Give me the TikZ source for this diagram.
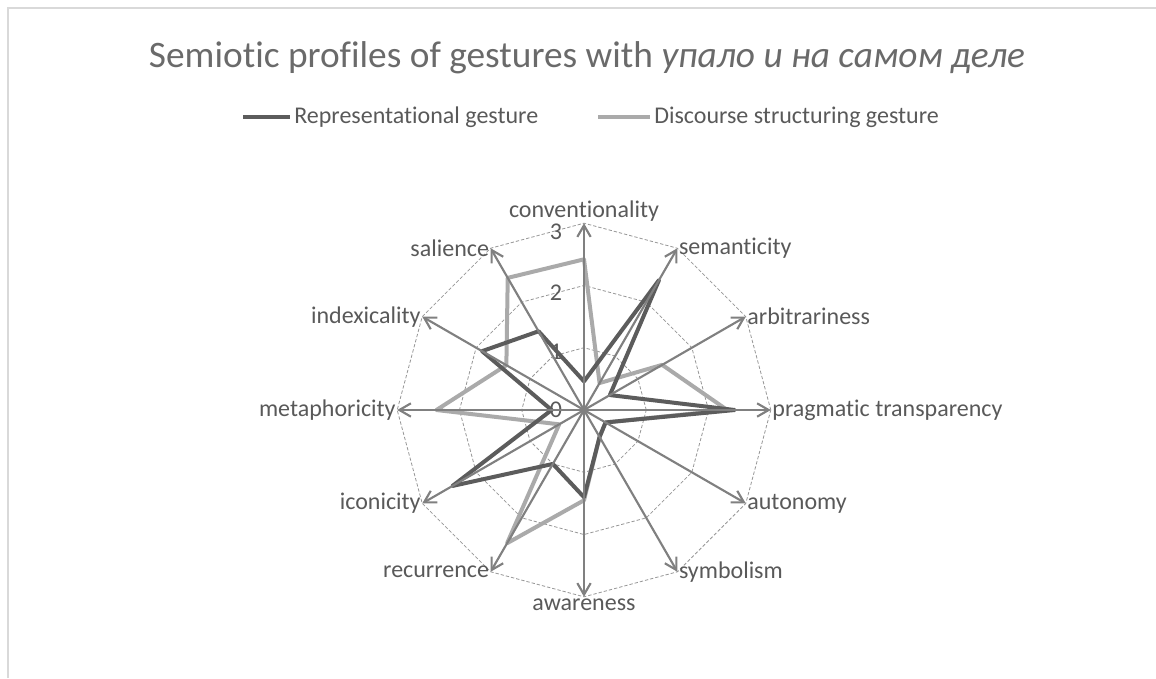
\documentclass[tikz,border=0pt]{standalone}
\usepackage{fontspec}
\setmainfont{Carlito}[Ligatures=NoCommon]
\usetikzlibrary{arrows.meta}

\definecolor{textgray}{RGB}{89,89,89}
\definecolor{axisgray}{RGB}{128,128,128}
\definecolor{ringgray}{RGB}{150,150,150}
\definecolor{repgray}{RGB}{92,92,92}
\definecolor{discgray}{RGB}{170,170,170}
\definecolor{framegray}{RGB}{217,217,217}

\begin{document}
\begin{tikzpicture}[x=0.75pt,y=-0.75pt]
\tikzstyle{axis} = [draw=axisgray, line width=1.6pt, -{Straight Barb[angle=60:10pt, line width=1.6pt]}]
\tikzstyle{ring} = [draw=ringgray, line width=0.6pt, dash pattern=on 2.5pt off 1.5pt]
\tikzstyle{repline} = [draw=repgray, line width=3pt, line join=round]
\tikzstyle{discline} = [draw=discgray, line width=3pt, line join=round]
\tikzstyle{lbl} = [text=textgray, font=\fontsize{18}{21}\selectfont, inner sep=1pt]

\useasboundingbox (0,0) rectangle (1156,678);
\draw[framegray, line width=1.5pt] (8,678) -- (8,8) -- (1156,8);

\node[text=textgray!90, font=\fontsize{28}{32}\selectfont] (title) at (587,58)
    {Semiotic profiles of gestures with \textit{упало и на самом деле}};

% legend
\coordinate (repa) at (243,117);
\coordinate (repb) at (290,117);
\draw[repline] (repa) -- (repb);
\node[lbl, anchor=west, inner sep=3pt] (replbl) at (repb) {Representational gesture};
\coordinate (disca) at (598,117);
\coordinate (discb) at (650,117);
\draw[discline] (disca) -- (discb);
\node[lbl, anchor=west, inner sep=3pt] (disclbl) at (discb) {Discourse structuring gesture};

\begin{scope}[shift={(584,410)}, x=46.7pt, y=46.7pt]
\coordinate (o) at (0,0);
\foreach \ang/\name in {90/conv, 60/sem, 30/arb, 0/prag, -30/auto, -60/sym,
    -90/aware, -120/recur, -150/icon, 180/meta, 150/index, 120/sal}
    \coordinate (\name) at (\ang:3);

% rings
\foreach \r in {1,2,3}
    \draw[ring] (0:\r) \foreach \k in {1,...,11}{ -- (\k*30:\r)} -- cycle;

% ticks
\foreach \r/\y in {0/0, 1/0.93, 2/1.88, 3/2.86}
    \node[lbl] (tick\r) at (-0.45,\y) {\r};

% series
\foreach \ang/\v [count=\i] in {90/0.46, 60/2.41, 30/0.48, 0/2.42, -30/0.4, -60/0.5,
    -90/1.4, -120/1.0, -150/2.44, 180/0.52, 150/1.89, 120/1.46}
    \coordinate (rep\i) at (\ang:\v);
\foreach \ang/\v [count=\i] in {90/2.42, 60/0.5, 30/1.45, 0/2.3, -30/0.4, -60/0.5,
    -90/1.45, -120/2.47, -150/0.46, 180/2.37, 150/1.44, 120/2.45}
    \coordinate (disc\i) at (\ang:\v);
\draw[discline] (disc1) \foreach \i in {2,...,12}{ -- (disc\i)} -- cycle;
\draw[repline] (rep1) \foreach \i in {2,...,12}{ -- (rep\i)} -- cycle;

% axes
\foreach \name in {conv, sem, arb, prag, auto, sym, aware, recur, icon, meta, index, sal}
    \draw[axis] (o) -- (\name);

% labels
\node[lbl, anchor=south] (convlbl) at (conv) {conventionality};
\node[lbl, anchor=west] (semlbl) at (sem) {semanticity};
\node[lbl, anchor=west] (arblbl) at (arb) {arbitrariness};
\node[lbl, anchor=west] (praglbl) at (prag) {pragmatic transparency};
\node[lbl, anchor=west] (autolbl) at (auto) {autonomy};
\node[lbl, anchor=west] (symlbl) at (sym) {symbolism};
\node[lbl, anchor=north] (awarelbl) at (aware) {awareness};
\node[lbl, anchor=east] (recurlbl) at (recur) {recurrence};
\node[lbl, anchor=east] (iconlbl) at (icon) {iconicity};
\node[lbl, anchor=east] (metalbl) at (meta) {metaphoricity};
\node[lbl, anchor=east] (indexlbl) at (index) {indexicality};
\node[lbl, anchor=east] (sallbl) at (sal) {salience};
\end{scope}
\end{tikzpicture}
\end{document}
